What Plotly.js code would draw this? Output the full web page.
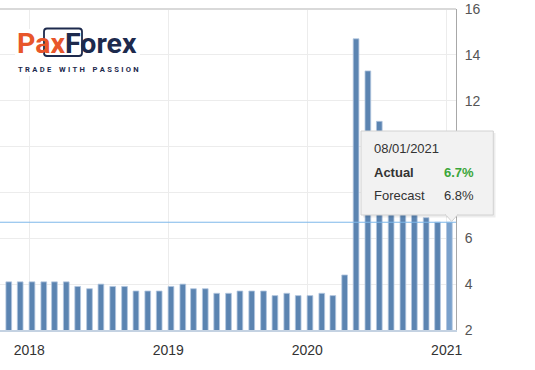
<!DOCTYPE html>
<html>
<head>
<meta charset="utf-8">
<script src="https://cdn.plot.ly/plotly-3.0.1.min.js"></script>
<style>html,body{margin:0;padding:0;background:#fff;}#chart{width:535px;height:370px;}</style>
</head>
<body>
<div id="chart"></div>
<script>
// Release dates (plotted) and unemployment rate values (%)
var dates = [
  "2017-11-08","2017-12-08","2018-01-08","2018-02-08","2018-03-08","2018-04-08",
  "2018-05-08","2018-06-08","2018-07-08","2018-08-08","2018-09-08","2018-10-08",
  "2018-11-08","2018-12-08","2019-01-08","2019-02-08","2019-03-08","2019-04-08",
  "2019-05-08","2019-06-08","2019-07-08","2019-08-08","2019-09-08","2019-10-08",
  "2019-11-08","2019-12-08","2020-01-08","2020-02-08","2020-03-08","2020-04-08",
  "2020-05-08","2020-06-08","2020-07-08","2020-08-08","2020-09-08","2020-10-08",
  "2020-11-08","2020-12-08","2021-01-08"
];
var actual = [
  4.1,4.1,4.1,4.1,4.1,4.1,
  3.9,3.8,4.0,3.9,3.9,3.7,
  3.7,3.7,3.9,4.0,3.8,3.8,
  3.6,3.6,3.7,3.7,3.7,3.5,
  3.6,3.5,3.5,3.6,3.5,4.4,
  14.7,13.3,11.1,10.2,8.4,7.9,
  6.9,6.7,6.7
];
var forecast = [6.8];            // forecast for the highlighted (last) release
var tooltipDate = ["08/01/2021"];
var xTickVals = ["2018-01-01","2019-01-01","2020-01-01","2021-01-01"];
var xTickText = ["2018","2019","2020","2021"];
var yTickVals = [2,4,6,8,10,12,14,16];
// 8 and 10 are hidden behind the tooltip in the reference
var yTickText = ["2","4","6","","","12","14","16"];

var W = 456, TOP = 9, BOT = 330, H = BOT - TOP;
function px(x){ return x / W; }
function py(y){ return (BOT - y) / H; }

var n = actual.length;
var colors = actual.map(function(v,i){ return i === n-1 ? "#7aa1cc" : "#5b84b1"; });
var DAY = 86400000;

var trace = {
  type: "bar",
  x: dates,
  y: actual,
  base: 0,
  width: dates.map(function(){ return 15*DAY; }),
  marker: { color: colors, line: { color: "#b3c7df", width: 0.8 } },
  hoverinfo: "skip"
};

var lastVal = actual[n-1];
var fmt = function(v){ return v.toFixed(1) + "%"; };

var shapes = [
  { type:"line", xref:"paper", yref:"paper", x0:0, x1:1, y0:1, y1:1, line:{color:"#d9d9d9", width:2}, layer:"above" },
  { type:"line", xref:"paper", yref:"y", x0:0, x1:1, y0:lastVal, y1:lastVal, line:{color:"#7db8ea", width:1}, layer:"above" },
  { type:"rect", xref:"paper", yref:"paper", x0:px(15), x1:px(140), y0:py(76), y1:py(29), fillcolor:"#ffffff", line:{width:0}, layer:"above" },
  { type:"path", xref:"paper", yref:"paper",
    path: "M"+px(47)+","+py(28.5)+" L"+px(79)+","+py(28.5)+" Q"+px(82)+","+py(28.5)+" "+px(82)+","+py(31.5)+
          " L"+px(82)+","+py(53)+" Q"+px(82)+","+py(56)+" "+px(79)+","+py(56)+" L"+px(47)+","+py(56)+
          " Q"+px(44)+","+py(56)+" "+px(44)+","+py(53)+" L"+px(44)+","+py(31.5)+" Q"+px(44)+","+py(28.5)+" "+px(47)+","+py(28.5)+" Z",
    line:{color:"#1d2a4d", width:1.8}, layer:"above" },
  { type:"rect", xref:"paper", yref:"paper", x0:px(363), x1:px(495.5), y0:py(217.5), y1:py(133), fillcolor:"rgba(0,0,0,0.07)", line:{width:0}, layer:"above" },
  { type:"rect", xref:"paper", yref:"paper", x0:px(361), x1:px(493.3), y0:py(215), y1:py(131), fillcolor:"#f2f2f2", line:{color:"#d2d2d2", width:1}, layer:"above" },
  { type:"path", xref:"paper", yref:"paper",
    path: "M"+px(445.5)+","+py(214.5)+" L"+px(451.7)+","+py(221.5)+" L"+px(457.8)+","+py(214.5)+" Z",
    fillcolor:"#f2f2f2", line:{color:"#d2d2d2", width:1}, layer:"above" },
  { type:"line", xref:"paper", yref:"paper", x0:px(446), x1:px(457.3), y0:py(214.6), y1:py(214.6), line:{color:"#f2f2f2", width:1.5}, layer:"above" }
];

var tf = { family:"Arial, 'Liberation Sans', sans-serif", size:13, color:"#333333" };
var sp = "\u2009\u200A";
function spaced(s){ return s.split(" ").map(function(w){ return w.split("").join(sp); }).join("\u2003"); }
var annotations = [
  { xref:"paper", yref:"paper", x:px(15), y:py(43.5), xanchor:"left", yanchor:"middle", showarrow:false,
    text:'<span style="color:#e8562a">Pax</span><span style="color:#1d2a4d">Forex</span>',
    font:{ family:"Roboto, sans-serif", size:28.5, weight:700, color:"#1d2a4d" } },
  { xref:"paper", yref:"paper", x:px(16), y:py(69.3), xanchor:"left", yanchor:"middle", showarrow:false,
    text: spaced("TRADE WITH PASSION"),
    font:{ family:"Roboto, sans-serif", size:7.6, weight:700, color:"#1d2a4d" } },
  { xref:"paper", yref:"paper", x:px(372.3), y:py(148.3), xanchor:"left", yanchor:"middle", showarrow:false,
    text: tooltipDate[0], font: tf },
  { xref:"paper", yref:"paper", x:px(372.3), y:py(172.3), xanchor:"left", yanchor:"middle", showarrow:false,
    text: "<b>Actual</b>", font: tf },
  { xref:"paper", yref:"paper", x:px(475.7), y:py(172.3), xanchor:"right", yanchor:"middle", showarrow:false,
    text: "<b>" + fmt(lastVal) + "</b>", font: { family:tf.family, size:13, color:"#3aa63a" } },
  { xref:"paper", yref:"paper", x:px(372.3), y:py(196), xanchor:"left", yanchor:"middle", showarrow:false,
    text: "Forecast", font: tf },
  { xref:"paper", yref:"paper", x:px(475.7), y:py(196), xanchor:"right", yanchor:"middle", showarrow:false,
    text: fmt(forecast[0]), font: tf }
];

var layout = {
  width: 535, height: 370,
  margin: { l:0, r:79, t:TOP, b:370-BOT },
  paper_bgcolor: "#ffffff",
  plot_bgcolor: "#ffffff",
  showlegend: false,
  font: { family:"Arial, 'Liberation Sans', sans-serif" },
  xaxis: {
    type: "date",
    range: ["2017-10-16", "2021-01-25 10:00"],
    tickvals: xTickVals,
    ticktext: xTickText,
    ticks: "",
    showgrid: true, gridcolor: "#ececec", gridwidth: 1,
    showline: true, linecolor: "#c4d2e2", linewidth: 2,
    zeroline: false,
    tickfont: { family:"Arial, 'Liberation Sans', sans-serif", size:14, color:"#333333" },
    ticklabelstandoff: 6,
    fixedrange: true
  },
  yaxis: {
    side: "right",
    range: [2, 16],
    tickvals: yTickVals,
    ticktext: yTickText,
    ticks: "",
    showgrid: true, gridcolor: "#ececec", gridwidth: 1,
    showline: true, linecolor: "#a8a8a8", linewidth: 1,
    zeroline: false,
    tickfont: { family:"Arial, 'Liberation Sans', sans-serif", size:14, color:"#555555" },
    ticklabelstandoff: 5,
    fixedrange: true
  },
  shapes: shapes,
  annotations: annotations
};

Plotly.newPlot("chart", [trace], layout, { displayModeBar: false, staticPlot: true });
</script>
</body>
</html>
